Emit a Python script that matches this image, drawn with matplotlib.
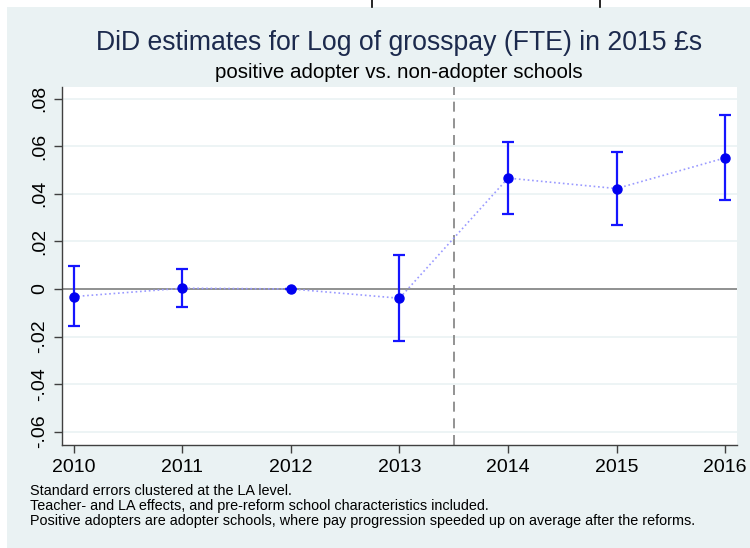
import numpy as np
import matplotlib
matplotlib.use('Agg')
import matplotlib.pyplot as plt
from matplotlib.lines import Line2D
from matplotlib.patches import Rectangle

plt.rcParams['font.family'] = ['Liberation Sans', 'DejaVu Sans']

# DiD estimates and confidence bounds
years = [2010, 2011, 2012, 2013, 2014, 2015, 2016]
coef = [-0.0032, 0.0003, 0.0, -0.0039, 0.0466, 0.0422, 0.0551]
ci_low = [-0.0157, -0.0074, 0.0, -0.0217, 0.0314, 0.0270, 0.0374]
ci_high = [0.0097, 0.0083, 0.0, 0.0144, 0.0619, 0.0577, 0.0732]
yticks = [-0.06, -0.04, -0.02, 0, 0.02, 0.04, 0.06, 0.08]
reform_line = 2013.5

title = "DiD estimates for Log of grosspay (FTE) in 2015 £s"
subtitle = "positive adopter vs. non-adopter schools"
notes = ["Standard errors clustered at the LA level.",
         "Teacher- and LA effects, and pre-reform school characteristics included.",
         "Positive adopters are adopter schools, where pay progression speeded up on average after the reforms."]

bg = '#EAF2F3'

fig = plt.figure(figsize=(7.5, 5.48), dpi=100)
fig.patch.set_facecolor('white')
# stata-ish graph region, with a thin white strip left and top
fig.add_artist(Rectangle((7 / 750, 0), 1 - 7 / 750, 1 - 7 / 548,
                         transform=fig.transFigure, facecolor=bg,
                         edgecolor='none', zorder=-10))
# cut-off marks at the very top of the screenshot
for xm in [372, 600]:
    fig.add_artist(Line2D([xm / 750, xm / 750], [1, 1 - 7 / 548],
                          transform=fig.transFigure, color='black', lw=1.2))

ax = fig.add_axes([62 / 750, 1 - 445 / 548, 675 / 750, 358 / 548])
ax.set_facecolor('white')

y = np.array(coef)
err = [y - np.array(ci_low), np.array(ci_high) - y]

ax.plot(years, coef, linestyle=':', color='#9a9aff', lw=1.2, zorder=3)
ax.errorbar(years, coef, yerr=err, fmt='none', ecolor='#1515ff',
            elinewidth=1.6, capsize=4, capthick=1.6, zorder=4)
ax.plot(years, coef, 'o', color='#0000f0', markersize=6.5, zorder=5)

ax.axhline(0, color='#808080', lw=1.2, zorder=2)
ax.axvline(reform_line, color='#808080', lw=1.2, linestyle=(0, (6, 4)), zorder=2)

ax.set_xlim(2009.89, 2016.11)
ax.set_ylim(-0.0656, 0.0849)
ax.set_xticks(years)
ax.set_yticks(yticks)

def fmt(v):
    if abs(v) < 1e-12:
        return '0'
    s = ('%.2f' % v).replace('0.', '.')
    return s

ax.set_yticklabels([fmt(v) for v in yticks], rotation=90, va='center')
ax.grid(axis='y', color=bg, lw=1.2, zorder=0)
ax.set_axisbelow(True)

for side in ['top', 'right']:
    ax.spines[side].set_visible(False)
for side in ['left', 'bottom']:
    ax.spines[side].set_color('#404040')
    ax.spines[side].set_linewidth(1.0)
ax.tick_params(axis='both', direction='out', length=6, width=1.0,
               color='#404040', labelsize=14, labelcolor='black', pad=4)

fig.text(0.532, 1 - 43 / 548, title, ha='center', va='center',
         fontsize=19.2, color='#1c2a4d')
fig.text(0.532, 1 - 73 / 548, subtitle, ha='center', va='center',
         fontsize=14.8, color='black')
for i, line in enumerate(notes):
    fig.text(30 / 750, 1 - (491 + 15 * i) / 548, line, ha='left',
             va='center', fontsize=10.4, color='black')

fig.savefig('out.png', dpi=100, facecolor=fig.get_facecolor())
